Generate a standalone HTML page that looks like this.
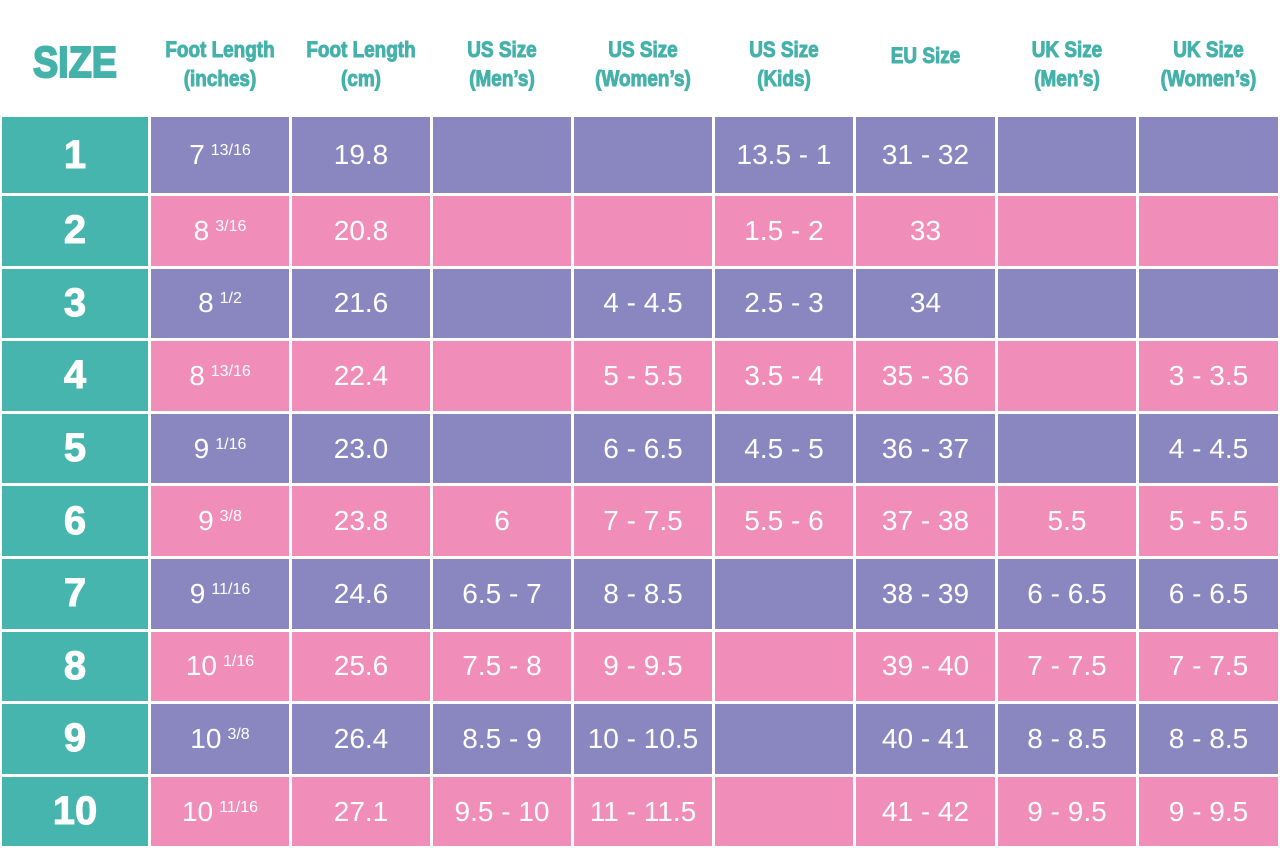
<!DOCTYPE html><html><head><style>
body{margin:0;width:1280px;height:851px;background:#fff;overflow:hidden;font-family:"Liberation Sans",Arial,sans-serif}
.h{position:absolute;top:35px;color:#44b2aa;font-weight:bold;font-size:22px;line-height:29px;text-align:center;font-family:"Liberation Sans",sans-serif;transform:scaleX(.86);white-space:nowrap;-webkit-text-stroke:1px #44b2aa}
.g{position:absolute;left:2px;top:117px;display:grid;grid-template-columns:146px 138px 138px 138px 138px 138px 139px 138px 139px;grid-template-rows:76px repeat(9,69.6px);gap:3px;background:#fff}
.g div{display:flex;align-items:center;justify-content:center;color:#fff;font-size:28px}
.s{background:#45b5ad;font-weight:900;font-size:40px!important;-webkit-text-stroke:1px #fff}
.p{background:#8a87c0}.k{background:#f08db8}
sup{font-size:16px;margin-left:6px;position:relative;top:-4px}
</style></head><body>
<div class="h" style="left:2px;width:146px;top:38px;font-size:44px;line-height:50px;-webkit-text-stroke:2px #44b2aa">SIZE</div>
<div class="h" style="left:151px;width:138px">Foot Length<br>(inches)</div>
<div class="h" style="left:292px;width:138px">Foot Length<br>(cm)</div>
<div class="h" style="left:433px;width:138px">US Size<br>(Men’s)</div>
<div class="h" style="left:574px;width:138px">US Size<br>(Women’s)</div>
<div class="h" style="left:715px;width:138px">US Size<br>(Kids)</div>
<div class="h" style="left:856px;width:139px;top:41px">EU Size</div>
<div class="h" style="left:998px;width:138px">UK Size<br>(Men’s)</div>
<div class="h" style="left:1139px;width:139px">UK Size<br>(Women’s)</div>
<div class="g">
<div class="s">1</div><div class="p">7<sup>13/16</sup></div><div class="p">19.8</div><div class="p"></div><div class="p"></div><div class="p">13.5 - 1</div><div class="p">31 - 32</div><div class="p"></div><div class="p"></div>
<div class="s">2</div><div class="k">8<sup>3/16</sup></div><div class="k">20.8</div><div class="k"></div><div class="k"></div><div class="k">1.5 - 2</div><div class="k">33</div><div class="k"></div><div class="k"></div>
<div class="s">3</div><div class="p">8<sup>1/2</sup></div><div class="p">21.6</div><div class="p"></div><div class="p">4 - 4.5</div><div class="p">2.5 - 3</div><div class="p">34</div><div class="p"></div><div class="p"></div>
<div class="s">4</div><div class="k">8<sup>13/16</sup></div><div class="k">22.4</div><div class="k"></div><div class="k">5 - 5.5</div><div class="k">3.5 - 4</div><div class="k">35 - 36</div><div class="k"></div><div class="k">3 - 3.5</div>
<div class="s">5</div><div class="p">9<sup>1/16</sup></div><div class="p">23.0</div><div class="p"></div><div class="p">6 - 6.5</div><div class="p">4.5 - 5</div><div class="p">36 - 37</div><div class="p"></div><div class="p">4 - 4.5</div>
<div class="s">6</div><div class="k">9<sup>3/8</sup></div><div class="k">23.8</div><div class="k">6</div><div class="k">7 - 7.5</div><div class="k">5.5 - 6</div><div class="k">37 - 38</div><div class="k">5.5</div><div class="k">5 - 5.5</div>
<div class="s">7</div><div class="p">9<sup>11/16</sup></div><div class="p">24.6</div><div class="p">6.5 - 7</div><div class="p">8 - 8.5</div><div class="p"></div><div class="p">38 - 39</div><div class="p">6 - 6.5</div><div class="p">6 - 6.5</div>
<div class="s">8</div><div class="k">10<sup>1/16</sup></div><div class="k">25.6</div><div class="k">7.5 - 8</div><div class="k">9 - 9.5</div><div class="k"></div><div class="k">39 - 40</div><div class="k">7 - 7.5</div><div class="k">7 - 7.5</div>
<div class="s">9</div><div class="p">10<sup>3/8</sup></div><div class="p">26.4</div><div class="p">8.5 - 9</div><div class="p">10 - 10.5</div><div class="p"></div><div class="p">40 - 41</div><div class="p">8 - 8.5</div><div class="p">8 - 8.5</div>
<div class="s">10</div><div class="k">10<sup>11/16</sup></div><div class="k">27.1</div><div class="k">9.5 - 10</div><div class="k">11 - 11.5</div><div class="k"></div><div class="k">41 - 42</div><div class="k">9 - 9.5</div><div class="k">9 - 9.5</div>
</div>
</body></html>
